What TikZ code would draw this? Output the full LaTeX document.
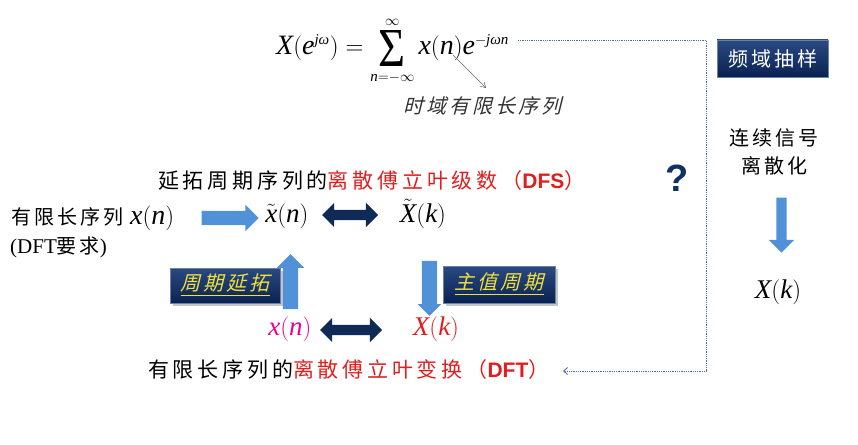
\documentclass[tikz,border=0pt]{standalone}
\usepackage{exscale}
\usepackage{graphicx}
\usepackage{fontspec}
\setmainfont{Liberation Serif}
\newfontfamily\cjk[LetterSpace=15]{Noto Sans CJK SC}
\newfontfamily\cjkwide[LetterSpace=18]{Noto Sans CJK SC}
\newfontfamily\cjkit[FakeSlant=0.25,LetterSpace=15]{Noto Sans CJK SC}
\newfontfamily\bsans{Liberation Sans}
\DeclareSymbolFont{tmsit}{TU}{\rmdefault}{m}{it}
\DeclareSymbolFont{tmsup}{TU}{\rmdefault}{m}{n}
\Umathcode`X=0 \symtmsit `X\relax
\Umathcode`x=0 \symtmsit `x\relax
\Umathcode`n=0 \symtmsit `n\relax
\Umathcode`k=0 \symtmsit `k\relax
\Umathcode`e=0 \symtmsit `e\relax
\Umathcode`j=0 \symtmsit `j\relax
\Umathcode`(=4 \symtmsup `(\relax
\Umathcode`)=5 \symtmsup `)\relax
\Umathcode`==3 \symtmsup `=\relax
\Umathchardef\tomega=0 \symtmsit "03C9\relax
\DeclareMathSizes{28}{28}{15}{11}
\newcommand\bigsig{\mathop{\vcenter{\hbox{\resizebox{27pt}{36pt}{Σ}}}}\limits}
\usetikzlibrary{shapes.arrows,shadows,arrows.meta}
\definecolor{ablue}{RGB}{80,145,215}
\definecolor{navy}{RGB}{14,42,86}
\definecolor{boxtop}{RGB}{42,74,130}
\definecolor{boxbot}{RGB}{10,34,82}
\definecolor{dred}{RGB}{225,30,30}
\definecolor{dotblue}{RGB}{70,110,170}
\definecolor{qnavy}{RGB}{15,50,100}
\definecolor{ylw}{RGB}{240,225,60}
\tikzset{
  txt/.style={inner sep=0pt},
  cjktxt/.style={inner sep=0pt, font=\cjk\fontsize{20}{24}\selectfont},
  linetxt/.style={inner sep=0pt, font=\cjkwide\fontsize{21}{24}\selectfont},
  mathtxt/.style={inner sep=0pt, font=\fontsize{27}{30}\selectfont},
  barrow/.style={single arrow, fill=ablue, draw=none, inner xsep=0pt, inner ysep=#1, minimum height=55pt, single arrow head extend=6pt},
  darrow/.style={double arrow, fill=navy, draw=none, inner xsep=0pt, inner ysep=5pt, double arrow head extend=7pt},
  darkbox/.style={top color=boxtop, bottom color=boxbot, draw=boxtop!70!white, line width=0.4pt, inner sep=0pt},
  shadbox/.style={darkbox, drop shadow={shadow xshift=3pt, shadow yshift=-3pt, fill=black!45}},
  dotline/.style={dotblue, densely dotted, line width=0.8pt},
}
\begin{document}
\begin{tikzpicture}[x=1pt,y=-1pt]
\useasboundingbox (0,0) rectangle (858,444);
% formula
\node[txt, anchor=base west, font=\fontsize{28}{30}\selectfont] (formula) at (276,55)
  {$\displaystyle X(e^{j\tomega})=\bigsig_{n=-\infty}^{\infty}x(n)e^{-j\tomega n}$};
\node[txt, anchor=west, font=\cjkit\fontsize{20}{24}\selectfont, text=black!80] (ann) at (403,106) {时域有限长序列};
\coordinate (a0) at (453,55);
\coordinate (a1) at (486,88);
\draw[black!60, line width=0.5pt, -{Straight Barb[length=5pt,width=6pt]}] (a0) -- (a1);
% right side
\node[darkbox, minimum width=111pt, minimum height=37pt, text=white, font=\cjk\fontsize{20}{24}\selectfont] (fysy) at (772.5,58.5) {频域抽样};
\node[cjktxt] (lx1) at (774,138) {连续信号};
\node[cjktxt] (lx2) at (774,166) {离散化};
\node[barrow=5pt, single arrow head extend=7.5pt, rotate=270] (rarr) at (781.5,222.5) {};
\node[mathtxt] (Xk2) at (778,292) {$X(k)$};
\node[txt, font=\bsans\bfseries\fontsize{38}{40}\selectfont, text=qnavy] (q) at (677,178) {?};
% top line
\node[linetxt, anchor=west] (dfs) at (158,181) {延拓周期序列的{\color{dred}离散傅立叶级数（{\bsans\bfseries DFS}）}};
\node[cjktxt, anchor=west] (fin) at (11,218) {有限长序列\hspace{7pt}{\fontsize{28}{30}\selectfont$x(n)$}};
\node[txt, anchor=west, font=\fontsize{21}{24}\selectfont] (req) at (10,247) {(DFT{\cjk\fontsize{20}{24}\selectfont 要求})};
\node[barrow=7pt, minimum height=57pt] (harr) at (226.5,218) {};
\node[mathtxt] (xt) at (287,216) {$\tilde{x}(n)$};
\node[darrow, minimum height=56pt] (d1) at (350,215) {};
\node[mathtxt] (Xt) at (423,214) {$\tilde{X}(k)$};
% verticals
\node[barrow=7.5pt, rotate=90] (uarr) at (290.5,285.5) {};
\node[barrow=7.5pt, single arrow head extend=4pt, rotate=270] (darr) at (429.5,284.5) {};
\node[shadbox, minimum width=110pt, minimum height=35pt, text=ylw, font=\cjkit\fontsize{20}{24}\selectfont] (zqyt) at (225,285.5) {\underline{周期延拓}};
\node[shadbox, minimum width=112pt, minimum height=37pt, text=ylw, font=\cjkit\fontsize{20}{24}\selectfont] (zzzq) at (499,284.5) {\underline{主值周期}};
% bottom
\node[mathtxt, text=magenta] (xn) at (290,329) {$x(n)$};
\node[darrow, minimum height=62pt] (d2) at (351,330) {};
\node[mathtxt, text=dred] (Xk) at (436,329) {$X(k)$};
\node[linetxt, anchor=west] (dft) at (148,370) {有限长序列的{\color{dred}离散傅立叶变换（{\bsans\bfseries DFT}）}};
% dotted connector
\coordinate (dstart) at (518,40);
\coordinate (corner) at (706,371);
\coordinate (dend) at (563,371);
\draw[dotline, -{Straight Barb[length=4pt,width=7pt]}] (dstart) -| (corner) -- (dend);
\end{tikzpicture}
\end{document}
